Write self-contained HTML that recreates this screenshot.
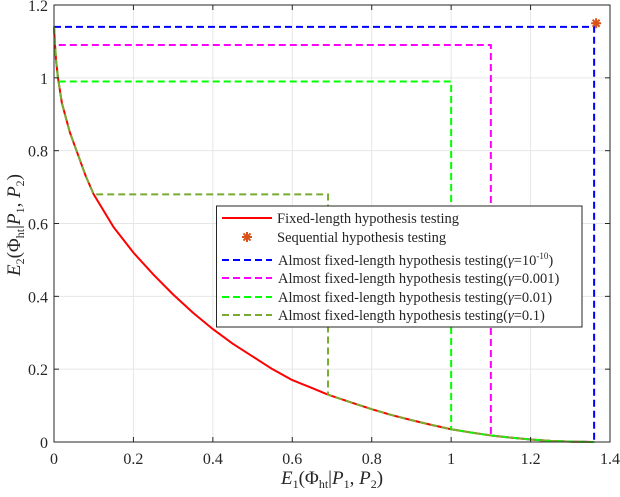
<!DOCTYPE html>
<html><head><meta charset="utf-8"><style>
body{margin:0;background:#fff}
svg text{font-family:"Liberation Serif",serif;fill:#262626}
</style></head><body>
<svg id="c" width="620" height="492" xmlns="http://www.w3.org/2000/svg"></svg>
<script>
const curveX=[0,0.002,0.005,0.01,0.02,0.04,0.06,0.08,0.1,0.15,0.2,0.25,0.3,0.35,0.4,0.45,0.5,0.55,0.6,0.65,0.69,0.75,0.8,0.85,0.9,0.95,1.0,1.05,1.1,1.15,1.2,1.25,1.3,1.36];
const curveY=[1.14,1.1,1.05,1.0,0.93,0.85,0.79,0.73,0.68,0.59,0.52,0.46,0.405,0.355,0.31,0.27,0.235,0.2,0.17,0.148,0.13,0.108,0.09,0.074,0.06,0.047,0.035,0.026,0.018,0.012,0.007,0.003,0.001,0];
const almostNames=["Almost fixed-length hypothesis testing(γ=10^-10)","Almost fixed-length hypothesis testing(γ=0.001)","Almost fixed-length hypothesis testing(γ=0.01)","Almost fixed-length hypothesis testing(γ=0.1)"];
const almostLevelY=[1.14,1.09,0.99,0.68];
const almostCutX=[1.36,1.1,1.0,0.69];
const almostColors=["#0000ff","#ff00ff","#00ff00","#77ac30"];
const seqPoint=[1.365,1.15];
const xTicks=[0,0.2,0.4,0.6,0.8,1,1.2,1.4];
const yTicks=[0,0.2,0.4,0.6,0.8,1,1.2];
const L=54,R=610,T=5,B=442;
const sx=v=>L+(R-L)*v/1.4, sy=v=>B-(B-T)*v/1.2;
const svg=document.getElementById('c');const NS="http://www.w3.org/2000/svg";
function el(t,a,p){const e=document.createElementNS(NS,t);for(const k in a)e.setAttribute(k,a[k]);(p||svg).appendChild(e);return e;}
function interp(x){for(let i=1;i<curveX.length;i++){if(x<=curveX[i]){const t=(x-curveX[i-1])/(curveX[i]-curveX[i-1]);return curveY[i-1]+t*(curveY[i]-curveY[i-1]);}}return 0;}
function invY(y){for(let i=1;i<curveY.length;i++){if(y>=curveY[i]){const t=(curveY[i-1]-y)/(curveY[i-1]-curveY[i]);return curveX[i-1]+t*(curveX[i]-curveX[i-1]);}}return curveX[curveX.length-1];}
xTicks.forEach(v=>{const g=el('line',{x1:sx(v),x2:sx(v),y1:T,y2:B,stroke:'#e6e6e6'});});
yTicks.forEach(v=>{const g=el('line',{x1:L,x2:R,y1:sy(v),y2:sy(v),stroke:'#e6e6e6'});});
const cp=curveX.map((x,i)=>sx(x)+','+sy(curveY[i])).join(' ');
const red=el('polyline',{points:cp,fill:'none',stroke:'#ff0000','stroke-width':2,'stroke-linejoin':'round'});

almostLevelY.forEach((ly,k)=>{
 const x0=invY(ly),xc=almostCutX[k];
 const pts=[];
 curveX.forEach((x,i)=>{if(x<x0)pts.push([x,curveY[i]]);});
 pts.push([x0,ly]);pts.push([xc,ly]);pts.push([xc,interp(xc)]);
 curveX.forEach((x,i)=>{if(x>xc)pts.push([x,curveY[i]]);});
 const p=el('polyline',{points:pts.map(q=>sx(q[0])+','+sy(q[1])).join(' '),fill:'none',stroke:almostColors[k],'stroke-width':2,'stroke-dasharray':'7,4'});
 
});
function star(cx,cy,name){const g=el('g',{});
 for(let a=0;a<4;a++){const r=5,an=a*Math.PI/4;el('line',{x1:cx-r*Math.cos(an),y1:cy-r*Math.sin(an),x2:cx+r*Math.cos(an),y2:cy+r*Math.sin(an),stroke:'#d95319','stroke-width':2},g);}}
star(sx(seqPoint[0]),sy(seqPoint[1]),'sequential-point');
const box=el('rect',{x:L,y:T,width:R-L,height:B-T,fill:'none',stroke:'#262626','stroke-width':1});

xTicks.forEach(v=>{el('line',{x1:sx(v),x2:sx(v),y1:B,y2:B-5,stroke:'#262626'});el('line',{x1:sx(v),x2:sx(v),y1:T,y2:T+5,stroke:'#262626'});
 const t=el('text',{x:sx(v),y:B+22,'text-anchor':'middle','font-size':16});t.textContent=v;});
yTicks.forEach(v=>{el('line',{x1:L,x2:L+5,y1:sy(v),y2:sy(v),stroke:'#262626'});el('line',{x1:R,x2:R-5,y1:sy(v),y2:sy(v),stroke:'#262626'});
 const t=el('text',{x:L-6,y:sy(v)+6,'text-anchor':'end','font-size':16});t.textContent=v;});
const xt=el('text',{x:332,y:484,'text-anchor':'middle','font-size':19});
xt.innerHTML='<tspan font-style="italic">E</tspan><tspan font-size="12" dy="4">1</tspan><tspan dy="-4">(Φ</tspan><tspan font-size="12" dy="4">ht</tspan><tspan dy="-4">|</tspan><tspan font-style="italic">P</tspan><tspan font-size="12" dy="4">1</tspan><tspan dy="-4">, </tspan><tspan font-style="italic">P</tspan><tspan font-size="12" dy="4">2</tspan><tspan dy="-4">)</tspan>';

const yt=el('text',{x:0,y:0,'text-anchor':'middle','font-size':19,transform:'translate(20,225) rotate(-90)'});
yt.innerHTML='<tspan font-style="italic">E</tspan><tspan font-size="12" dy="4">2</tspan><tspan dy="-4">(Φ</tspan><tspan font-size="12" dy="4">ht</tspan><tspan dy="-4">|</tspan><tspan font-style="italic">P</tspan><tspan font-size="12" dy="4">1</tspan><tspan dy="-4">, </tspan><tspan font-style="italic">P</tspan><tspan font-size="12" dy="4">2</tspan><tspan dy="-4">)</tspan>';

const lg=el('g',{});
el('rect',{x:216.5,y:206,width:365.5,height:121,fill:'#fff',stroke:'#262626'},lg);
const rowsY=[218,237,260,278,297,315];
const e0=el('g',{},lg);
el('line',{x1:222,x2:272,y1:rowsY[0],y2:rowsY[0],stroke:'#ff0000','stroke-width':2},e0);
el('text',{x:277,y:rowsY[0]+5,'font-size':14.5},e0).textContent='Fixed-length hypothesis testing';
const e1=el('g',{},lg);
star(247,rowsY[1],'legend-star');
el('text',{x:277,y:rowsY[1]+5,'font-size':14.5},e1).textContent='Sequential hypothesis testing';
almostNames.forEach((n,k)=>{const y=rowsY[k+2];const g=el('g',{},lg);
 el('line',{x1:222,x2:272,y1:y,y2:y,stroke:almostColors[k],'stroke-width':2,'stroke-dasharray':'7,4'},g);
 const t=el('text',{x:278,y:y+5,'font-size':14.5},g);
 const parts=n.split('γ');const val=parts[1];
 if(val.includes('^')){const [b,e]=val.split('^');t.innerHTML=parts[0]+'<tspan font-style="italic">γ</tspan>'+b+'<tspan font-size="9" dy="-6">'+e.replace(')','')+'</tspan><tspan dy="6">)</tspan>';}
 else t.innerHTML=parts[0]+'<tspan font-style="italic">γ</tspan>'+val;
});
</script>
</body></html>
